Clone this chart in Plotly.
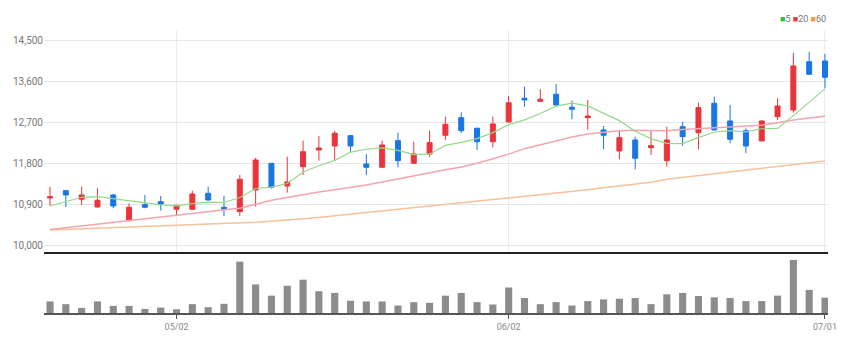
import plotly.graph_objects as go
from plotly.subplots import make_subplots

dates = ["04/20", "04/21", "04/22", "04/25", "04/26", "04/27", "04/28", "04/29",
         "05/02", "05/03", "05/04", "05/06", "05/09", "05/10", "05/11", "05/12", "05/13",
         "05/16", "05/17", "05/18", "05/19", "05/20", "05/23", "05/24", "05/25", "05/26",
         "05/27", "05/30", "05/31", "06/02", "06/03", "06/07", "06/08", "06/09", "06/10",
         "06/13", "06/14", "06/15", "06/16", "06/17", "06/20", "06/21", "06/22", "06/23",
         "06/24", "06/27", "06/28", "06/29", "06/30", "07/01"]

open_ = [11040, 11200, 11012, 10843, 11106, 10543, 10894, 10959, 10793, 10793,
         11143, 10837, 10740, 11215, 11800, 11303, 11726, 12091, 12179, 12405,
         11785, 11712, 12295, 11800, 12004, 12413, 12799, 12567, 12273, 12705,
         13224, 13158, 13311, 13027, 12799, 12530, 12070, 12310, 12142, 11857,
         12602, 12470, 13114, 12727, 12514, 12289, 12821, 12967, 14025, 14040]
high = [11288, 11215, 11288, 11253, 11128, 10924, 11106, 11084, 10887, 11200,
        11288, 11084, 11544, 11923, 11800, 11945, 12295, 12398, 12514, 12420,
        12004, 12295, 12470, 12273, 12514, 12821, 12917, 12580, 12821, 13274,
        13478, 13421, 13537, 13171, 13186, 12617, 12514, 12383, 12514, 12602,
        12711, 13127, 13259, 13077, 12567, 12740, 13224, 14222, 14244, 14194]
low = [10865, 10837, 10887, 10830, 10815, 10530, 10815, 10762, 10668, 10780,
       10980, 10646, 10646, 10850, 11244, 11156, 11544, 11857, 11857, 12054,
       11544, 11700, 11712, 11790, 11945, 12310, 12457, 12091, 12150, 12690,
       13040, 13150, 13040, 12764, 12530, 12107, 11888, 11669, 11982, 11726,
       12179, 12107, 12520, 12238, 12019, 12280, 12748, 12908, 13740, 13443]
close = [11069, 11106, 11106, 10990, 10865, 10837, 10837, 10909, 10880, 11128,
         10996, 10793, 11450, 11872, 11275, 11390, 12054, 12135, 12457, 12179,
         11712, 12201, 11857, 12004, 12251, 12654, 12514, 12273, 12661, 13127,
         13186, 13202, 13077, 12983, 12836, 12413, 12361, 11910, 12186, 12310,
         12383, 13018, 12530, 12325, 12179, 12727, 13055, 13931, 13749, 13683]

ma5 = [10865, 10960, 11055, 11069, 11027, 10981, 10927, 10888, 10866, 10918,
       10950, 10941, 11049, 11248, 11277, 11356, 11608, 11745, 11862, 12043,
       12107, 12137, 12081, 11991, 12005, 12193, 12256, 12339, 12471, 12646,
       12752, 12890, 13051, 13115, 13057, 12902, 12734, 12501, 12341, 12236,
       12230, 12361, 12485, 12513, 12487, 12556, 12563, 12843, 13128, 13429]
ma20 = [10350, 10387, 10424, 10460, 10497, 10533, 10572, 10615, 10660, 10700,
        10745, 10780, 10815, 10900, 10990, 11050, 11115, 11170, 11220, 11270,
        11322, 11390, 11460, 11530, 11600, 11660, 11720, 11800, 11900, 12000,
        12120, 12210, 12290, 12375, 12440, 12480, 12515, 12525, 12520, 12515,
        12540, 12560, 12585, 12605, 12615, 12635, 12690, 12750, 12790, 12830]
ma60 = [10339, 10351, 10363, 10375, 10387, 10398, 10410, 10422, 10434, 10446,
        10458, 10470, 10482, 10506, 10530, 10554, 10579, 10614, 10649, 10684,
        10720, 10756, 10792, 10828, 10864, 10898, 10934, 10969, 11004, 11040,
        11075, 11111, 11146, 11181, 11222, 11262, 11303, 11344, 11384, 11452,
        11492, 11532, 11572, 11612, 11652, 11691, 11731, 11771, 11811, 11849]

volume = [34, 26, 15, 34, 21, 21, 12, 16, 11, 26, 17, 27, 151, 84, 51, 80, 98, 64, 59, 36,
          34, 34, 22, 32, 30, 51, 59, 32, 25, 75, 44, 26, 32, 22, 35, 40, 42, 44, 26, 55,
          59, 50, 46, 44, 35, 35, 51, 156, 68, 45]
volume = [v * 1000 for v in volume]

price_ticks = [10000, 10900, 11800, 12700, 13600, 14500]
date_ticks = ["05/02", "06/02", "07/01"]

RED = "#e8343b"
BLUE = "#1a76e3"
C5 = "#94d98a"
C20 = "#f5a3ae"
C60 = "#f8c197"

fig = make_subplots(rows=2, cols=1, shared_xaxes=True, vertical_spacing=0,
                    row_heights=[0.786, 0.214])

fig.add_trace(go.Scatter(x=dates, y=ma60, mode="lines", line=dict(color=C60, width=1.5),
                         hoverinfo="skip", showlegend=False), row=1, col=1)
fig.add_trace(go.Scatter(x=dates, y=ma20, mode="lines", line=dict(color=C20, width=1.5),
                         hoverinfo="skip", showlegend=False), row=1, col=1)
fig.add_trace(go.Scatter(x=dates, y=ma5, mode="lines", line=dict(color=C5, width=1.2),
                         hoverinfo="skip", showlegend=False), row=1, col=1)
fig.add_trace(go.Candlestick(x=dates, open=open_, high=high, low=low, close=close,
                             increasing=dict(line=dict(color=RED, width=1), fillcolor=RED),
                             decreasing=dict(line=dict(color=BLUE, width=1), fillcolor=BLUE),
                             whiskerwidth=0, showlegend=False), row=1, col=1)
fig.add_trace(go.Bar(x=dates, y=volume, marker=dict(color="#8c8c8c", line=dict(width=0)),
                     width=0.45, showlegend=False), row=2, col=1)

fig.update_layout(
    width=850, height=351,
    margin=dict(l=44, r=22, t=30, b=38),
    paper_bgcolor="white", plot_bgcolor="white",
    boxgap=0.55,
    hovermode=False,
    font=dict(family="Liberation Sans Narrow, Roboto, sans-serif", size=10, color="#777"),
    annotations=[dict(
        xref="paper", yref="paper", x=1.0, y=1.0, xanchor="right", yanchor="bottom",
        yshift=4, showarrow=False,
        text=("<span style='color:#33b84a'>■</span><span style='color:#777'>5 </span>"
              "<span style='color:#e8343b'>■</span><span style='color:#777'>20 </span>"
              "<span style='color:#f49a37'>■</span><span style='color:#777'>60</span>"),
        font=dict(size=9, family="Liberation Sans Narrow, Roboto, sans-serif"))],
)

fig.update_xaxes(type="category", range=[-0.38, 49.19], rangeslider=dict(visible=False),
                 tickmode="array", tickvals=date_ticks, ticktext=date_ticks,
                 fixedrange=True)
fig.update_xaxes(row=1, col=1, showticklabels=False, showgrid=True, gridcolor="#ececec",
                 gridwidth=1, showline=True, linecolor="#222", linewidth=2, ticks="")
fig.update_xaxes(row=2, col=1, showticklabels=True, showgrid=False, showline=True,
                 linecolor="#555", linewidth=2, ticks="outside", ticklen=4, tickcolor="#555",
                 tickfont=dict(size=9, color="#888"))

fig.update_yaxes(row=1, col=1, range=[9847, 14719], tickmode="array", tickvals=price_ticks,
                 ticktext=[f"{v:,}" for v in price_ticks], showgrid=True, gridcolor="#e6e6e6",
                 gridwidth=1, zeroline=False, showline=False, ticks="",
                 tickfont=dict(size=10, color="#777"))
fig.update_yaxes(row=2, col=1, range=[0, 178000], showgrid=False, showticklabels=False,
                 zeroline=False, showline=False)

fig.write_html("out.html")
